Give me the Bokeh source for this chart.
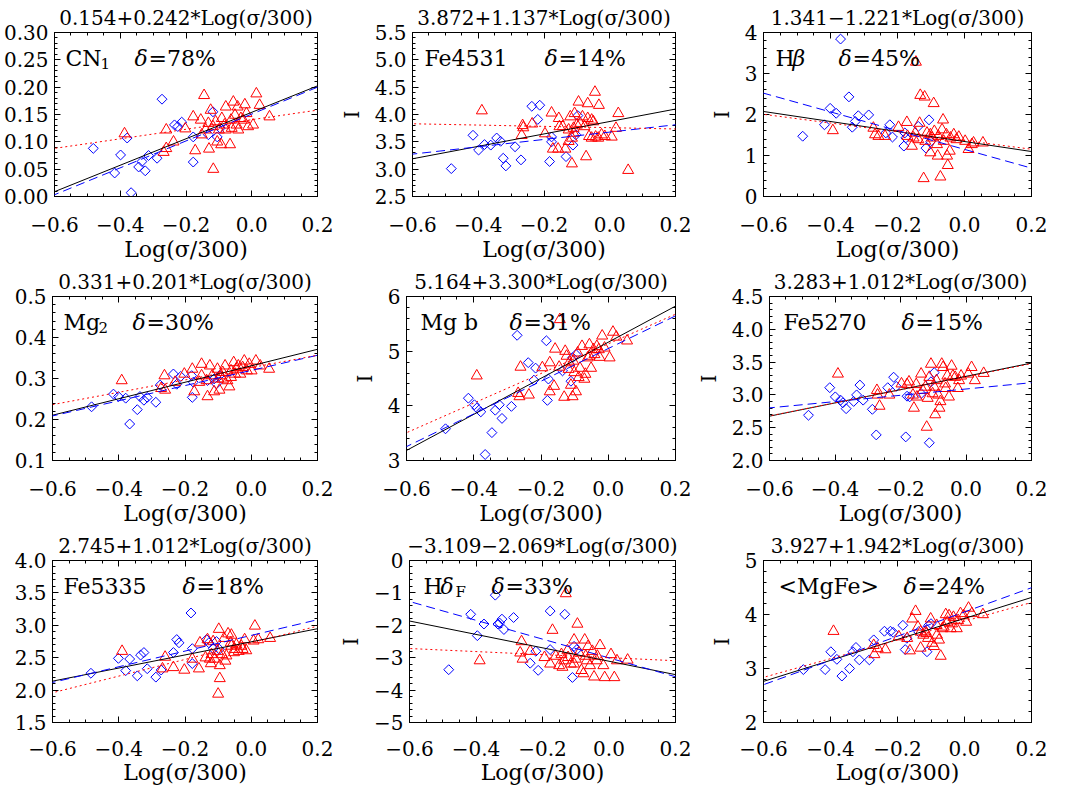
import math
from bokeh.plotting import figure
from bokeh.models import (Range1d, SingleIntervalTicker, LinearAxis, Slope, Label,
                          CustomJSTickFormatter)
from bokeh.layouts import column, row
from bokeh.embed import file_html
from bokeh.resources import INLINE

FONT = "DejaVu Serif"
BLUE = "#0000ff"
RED = "#ff0000"

# ------------------------------------------------------------------ data
x_axis_range = [-0.6, 0.2]
x_tick_step = 0.2
x_title = "Log(σ/300)"
y_title = "I"

# fit of all galaxies (from the panel titles): I = a + b*Log(sigma/300)
fit_all_a = [0.154, 3.872, 1.341, 0.331, 5.164, 3.283, 2.745, -3.109, 3.927]
fit_all_b = [0.242, 1.137, -1.221, 0.201, 3.300, 1.012, 1.012, -2.069, 1.942]
# fits of the blue (diamond) and red (triangle) subsamples
fit_blue_a = [0.1508, 3.678, 1.149, 0.3197, 5.048, 3.090, 2.844, -3.0065, 4.047]
fit_blue_b = [0.246, 0.671, -2.286, 0.185, 2.990, 0.480, 1.210, -2.9025, 2.245]
fit_red_a = [0.1405, 3.759, 1.366, 0.3266, 5.134, 3.277, 2.730, -2.999, 3.876]
fit_red_b = [0.0875, -0.119, -1.064, 0.1506, 2.710, 0.996, 1.285, -0.470, 1.734]
scatter_pct = [78, 14, 45, 30, 31, 15, 18, 33, 24]

y_lo = [0.0, 2.5, 0.0, 0.1, 3.0, 2.0, 1.5, -5.0, 2.0]
y_hi = [0.3, 5.5, 4.0, 0.5, 6.0, 4.5, 4.0, 0.0, 5.0]
y_step = [0.05, 0.5, 1, 0.1, 1, 0.5, 0.5, 1, 1]
y_dec = [2, 1, 0, 1, 0, 1, 1, 0, 0]

index_name_parts = [
    [("CN", "n"), ("1", "sub")],
    [("Fe4531", "n")],
    [("H", "n"), ("β", "i")],
    [("Mg", "n"), ("2", "sub")],
    [("Mg b", "n")],
    [("Fe5270", "n")],
    [("Fe5335", "n")],
    [("H", "n"), ("δ", "i"), ("F", "sub")],
    [("<MgFe>", "n")],
]

cn1_blue_x = [-0.482, -0.273, -0.399, -0.379, -0.417, -0.367, -0.344, -0.334, -0.324, -0.314,
              -0.288, -0.235, -0.225, -0.213, -0.178, -0.178, -0.132, -0.118, -0.105, -0.096]
cn1_blue_y = [0.088, 0.178, 0.076, 0.107, 0.043, 0.007, 0.054, 0.064, 0.047, 0.075,
              0.070, 0.131, 0.128, 0.136, 0.109, 0.063, 0.113, 0.155, 0.109, 0.125]
cn1_red_x = [-0.387, -0.145, -0.260, -0.238, -0.260, -0.268, -0.202, -0.178, -0.172, -0.155,
             -0.152, -0.130, -0.117, -0.125, -0.132, -0.118, -0.110, -0.105, -0.093, -0.079,
             -0.083, -0.079, -0.066, -0.056, -0.051, -0.046, -0.043, -0.033, -0.021, -0.016,
             -0.011, 0.004, 0.014, 0.024, 0.054, -0.063, -0.100, -0.091, -0.061, -0.041,
             -0.026, -0.140]
cn1_red_y = [0.115, 0.185, 0.122, 0.100, 0.088, 0.081, 0.124, 0.146, 0.084, 0.140,
             0.113, 0.087, 0.050, 0.158, 0.134, 0.128, 0.137, 0.100, 0.095, 0.164,
             0.131, 0.122, 0.095, 0.173, 0.149, 0.131, 0.164, 0.143, 0.168, 0.152,
             0.128, 0.131, 0.188, 0.167, 0.146, 0.140, 0.122, 0.143, 0.125, 0.122,
             0.140, 0.122]

fe4531_blue_x = [-0.482, -0.416, -0.399, -0.381, -0.362, -0.344, -0.332, -0.324, -0.316, -0.288,
                 -0.270, -0.237, -0.213, -0.219, -0.177, -0.177, -0.183, -0.133, -0.112, -0.103,
                 -0.097]
fe4531_blue_y = [3.01, 3.62, 3.35, 3.45, 3.44, 3.57, 3.51, 3.20, 3.06, 3.41,
                 3.17, 4.15, 4.17, 3.91, 3.59, 3.50, 3.14, 3.23, 3.44, 3.63,
                 3.98]
fe4531_red_x = [-0.389, -0.265, -0.263, -0.236, -0.268, -0.197, -0.177, -0.155, -0.173, -0.157,
                -0.143, -0.135, -0.125, -0.120, -0.115, -0.110, -0.107, -0.100, -0.095, -0.090,
                -0.083, -0.077, -0.072, -0.067, -0.063, -0.055, -0.050, -0.045, -0.043, -0.033,
                -0.025, -0.015, 0.006, 0.019, 0.026, 0.056, -0.125, -0.110, -0.067, -0.153,
                -0.115, -0.055, -0.035]
fe4531_red_y = [4.07, 3.80, 3.76, 3.83, 3.62, 3.65, 4.03, 3.93, 3.37, 3.37,
                3.78, 3.37, 3.51, 3.96, 3.10, 3.66, 4.02, 3.81, 4.23, 3.84,
                3.96, 3.78, 3.23, 4.20, 3.60, 3.90, 3.87, 4.41, 3.59, 4.17,
                3.63, 3.60, 3.59, 3.75, 4.02, 2.98, 3.72, 3.75, 3.93, 3.78,
                3.57, 3.57, 3.57]

hb_blue_x = [-0.483, -0.418, -0.401, -0.383, -0.370, -0.345, -0.335, -0.326, -0.317, -0.286,
             -0.223, -0.215, -0.235, -0.181, -0.178, -0.175, -0.138, -0.115, -0.106, -0.101]
hb_blue_y = [1.47, 1.75, 2.15, 2.03, 3.84, 2.43, 1.69, 1.83, 1.97, 1.99,
             1.75, 1.45, 1.55, 1.23, 1.55, 1.43, 1.71, 1.18, 1.87, 1.34]
hb_red_x = [-0.393, -0.145, -0.272, -0.267, -0.257, -0.237, -0.197, -0.172, -0.170, -0.157,
            -0.147, -0.134, -0.132, -0.122, -0.119, -0.117, -0.112, -0.102, -0.097, -0.092,
            -0.090, -0.082, -0.080, -0.072, -0.067, -0.064, -0.062, -0.054, -0.052, -0.050,
            -0.044, -0.042, -0.032, -0.024, -0.017, 0.002, 0.012, 0.022, 0.027, 0.055,
            -0.152, -0.138, -0.078, -0.102]
hb_red_y = [1.61, 3.28, 1.67, 1.51, 1.47, 1.47, 1.69, 1.81, 1.47, 1.23,
            1.55, 1.79, 2.47, 0.44, 2.43, 1.35, 1.55, 1.07, 1.43, 2.27,
            1.59, 1.27, 0.99, 0.48, 1.63, 1.87, 1.35, 1.51, 0.99, 0.76,
            1.11, 1.43, 1.51, 1.39, 1.45, 1.35, 1.15, 1.27, 1.31, 1.31,
            1.43, 1.39, 1.47, 1.51]

mg2_blue_x = [-0.482, -0.416, -0.401, -0.379, -0.367, -0.344, -0.336, -0.324, -0.314, -0.288,
              -0.275, -0.235, -0.225, -0.213, -0.180, -0.178, -0.175, -0.132, -0.112, -0.105,
              -0.096]
mg2_blue_y = [0.231, 0.262, 0.256, 0.252, 0.189, 0.224, 0.256, 0.247, 0.254, 0.242,
              0.284, 0.311, 0.286, 0.305, 0.307, 0.254, 0.291, 0.295, 0.299, 0.287,
              0.307]
mg2_red_x = [-0.391, -0.262, -0.272, -0.260, -0.230, -0.202, -0.172, -0.178, -0.157, -0.150,
             -0.132, -0.125, -0.118, -0.112, -0.102, -0.096, -0.093, -0.086, -0.079, -0.072,
             -0.066, -0.061, -0.053, -0.049, -0.039, -0.033, -0.021, -0.013, 0.001, 0.014,
             0.027, 0.054, -0.135, -0.100, -0.046, -0.026, -0.006, -0.150, -0.061, -0.086]
mg2_red_y = [0.295, 0.307, 0.276, 0.272, 0.291, 0.311, 0.268, 0.323, 0.291, 0.335,
             0.256, 0.331, 0.307, 0.268, 0.323, 0.272, 0.307, 0.315, 0.331, 0.295,
             0.280, 0.319, 0.339, 0.311, 0.331, 0.311, 0.343, 0.319, 0.319, 0.343,
             0.331, 0.323, 0.295, 0.299, 0.323, 0.327, 0.335, 0.307, 0.303, 0.299]

mgb_blue_x = [-0.484, -0.416, -0.398, -0.391, -0.379, -0.346, -0.336, -0.324, -0.316, -0.288,
              -0.366, -0.271, -0.238, -0.216, -0.221, -0.184, -0.178, -0.181, -0.136, -0.111,
              -0.106, -0.096]
mgb_blue_y = [3.58, 4.14, 4.02, 3.96, 3.89, 3.51, 3.92, 4.02, 3.77, 3.99,
              3.11, 5.29, 4.79, 4.69, 4.47, 5.19, 4.49, 4.10, 4.64, 4.45,
              4.88, 4.94]
mgb_red_x = [-0.391, -0.144, -0.261, -0.268, -0.264, -0.236, -0.196, -0.174, -0.158, -0.174,
             -0.161, -0.128, -0.124, -0.131, -0.118, -0.111, -0.104, -0.101, -0.096, -0.088,
             -0.084, -0.078, -0.071, -0.068, -0.061, -0.056, -0.051, -0.044, -0.034, -0.026,
             -0.018, -0.011, 0.004, 0.014, 0.024, 0.056, -0.146, -0.116, -0.091, -0.056,
             -0.041, -0.028, -0.106]
mgb_red_y = [4.55, 5.58, 4.71, 4.23, 4.17, 4.20, 4.70, 4.79, 5.04, 4.26,
             4.36, 5.00, 4.91, 4.16, 4.67, 4.38, 4.82, 4.61, 4.26, 4.52,
             4.69, 5.09, 4.49, 4.58, 4.88, 5.12, 4.69, 5.03, 5.09, 4.89,
             5.28, 5.06, 4.88, 5.35, 5.26, 5.19, 4.71, 4.79, 4.97, 4.91,
             4.94, 5.03, 4.17]

fe5270_blue_x = [-0.481, -0.416, -0.399, -0.383, -0.376, -0.366, -0.343, -0.334, -0.324, -0.314,
                 -0.286, -0.274, -0.239, -0.221, -0.213, -0.184, -0.180, -0.172, -0.137, -0.112,
                 -0.107, -0.097]
fe5270_blue_y = [2.69, 3.11, 2.97, 2.92, 2.88, 2.79, 2.90, 3.00, 3.15, 2.92,
                 2.78, 2.39, 3.11, 3.27, 3.13, 2.36, 2.98, 2.97, 3.02, 2.27,
                 3.20, 3.34]
fe5270_red_x = [-0.391, -0.272, -0.270, -0.264, -0.234, -0.197, -0.180, -0.174, -0.162, -0.159,
                -0.152, -0.137, -0.132, -0.124, -0.120, -0.117, -0.112, -0.107, -0.102, -0.094,
                -0.090, -0.085, -0.081, -0.074, -0.070, -0.064, -0.057, -0.052, -0.044, -0.040,
                -0.025, -0.021, -0.015, 0.007, 0.017, 0.027, 0.054, -0.150, -0.097, -0.062,
                -0.033, -0.078]
fe5270_red_y = [3.32, 3.07, 3.00, 2.83, 3.00, 3.17, 3.16, 3.20, 3.00, 2.80,
                3.16, 3.32, 3.07, 3.12, 2.51, 2.95, 3.27, 3.47, 3.02, 2.70,
                3.22, 3.00, 2.80, 3.47, 3.42, 3.17, 3.29, 2.97, 3.44, 3.29,
                3.10, 3.22, 3.29, 3.32, 3.42, 3.22, 3.33, 2.97, 3.12, 3.10,
                3.27, 2.90]

fe5335_blue_x = [-0.484, -0.401, -0.379, -0.367, -0.344, -0.334, -0.324, -0.314, -0.288, -0.272,
                 -0.235, -0.225, -0.218, -0.182, -0.178, -0.178, -0.135, -0.128, -0.115, -0.105,
                 -0.096]
fe5335_blue_y = [2.26, 2.49, 2.30, 2.48, 2.22, 2.54, 2.58, 2.33, 2.20, 2.31,
                 2.58, 2.78, 2.73, 3.19, 2.64, 2.41, 2.78, 2.73, 2.64, 2.75,
                 2.63]
fe5335_red_x = [-0.390, -0.260, -0.268, -0.235, -0.202, -0.178, -0.158, -0.155, -0.138, -0.132,
                -0.125, -0.122, -0.115, -0.110, -0.102, -0.098, -0.095, -0.095, -0.100, -0.088,
                -0.082, -0.078, -0.070, -0.062, -0.060, -0.052, -0.045, -0.038, -0.026, -0.020,
                -0.015, 0.011, 0.007, 0.021, 0.057, -0.060, -0.050, -0.120, -0.075, -0.030]
fe5335_red_y = [2.60, 2.51, 2.33, 2.35, 2.31, 2.48, 2.33, 2.73, 2.50, 2.78,
                2.48, 2.41, 2.75, 2.48, 2.60, 2.94, 2.38, 2.18, 1.94, 2.55,
                2.80, 2.45, 2.87, 2.73, 2.85, 2.58, 2.70, 2.60, 2.63, 2.78,
                2.61, 2.99, 2.76, 2.78, 2.80, 2.68, 2.63, 2.55, 2.53, 2.68]

hdf_blue_x = [-0.482, -0.416, -0.396, -0.376, -0.342, -0.334, -0.322, -0.316, -0.329, -0.287,
              -0.237, -0.220, -0.213, -0.177, -0.177, -0.133, -0.110, -0.105, -0.097]
hdf_blue_y = [-3.37, -1.66, -2.32, -1.96, -1.07, -1.96, -1.81, -2.13, -1.93, -1.76,
              -3.17, -2.80, -3.39, -1.56, -2.75, -1.66, -3.61, -2.65, -2.75]
hdf_red_x = [-0.389, -0.130, -0.263, -0.267, -0.260, -0.237, -0.194, -0.177, -0.170, -0.160,
             -0.150, -0.143, -0.135, -0.125, -0.123, -0.115, -0.105, -0.100, -0.095, -0.090,
             -0.083, -0.077, -0.073, -0.067, -0.063, -0.057, -0.050, -0.045, -0.037, -0.027,
             -0.017, -0.013, 0.006, 0.016, 0.024, 0.056, -0.105, -0.070, -0.035, -0.140]
hdf_red_y = [-3.09, -1.02, -2.50, -2.85, -3.04, -2.80, -2.99, -3.19, -2.15, -2.95,
             -3.24, -2.90, -3.09, -2.78, -2.99, -3.19, -2.45, -3.04, -1.96, -2.85,
             -3.39, -3.49, -2.45, -3.09, -2.65, -3.24, -2.80, -3.59, -3.09, -2.62,
             -3.24, -3.61, -2.90, -3.61, -3.09, -3.07, -3.19, -2.95, -2.95, -3.29]

mgfe_blue_x = [-0.481, -0.416, -0.399, -0.381, -0.366, -0.343, -0.333, -0.324, -0.314, -0.284,
               -0.271, -0.239, -0.221, -0.213, -0.184, -0.177, -0.172, -0.137, -0.112, -0.107,
               -0.100]
mgfe_blue_y = [2.98, 2.98, 3.31, 3.17, 2.86, 3.00, 3.31, 3.39, 3.16, 3.16,
               3.53, 3.69, 3.69, 3.67, 3.80, 3.35, 3.56, 3.68, 3.31, 3.80,
               3.83]
mgfe_red_x = [-0.391, -0.271, -0.269, -0.259, -0.236, -0.196, -0.171, -0.163, -0.156, -0.146,
              -0.139, -0.131, -0.123, -0.116, -0.109, -0.101, -0.096, -0.091, -0.083, -0.076,
              -0.071, -0.066, -0.056, -0.051, -0.046, -0.041, -0.033, -0.023, -0.019, -0.012,
              0.005, 0.012, 0.022, 0.055, -0.131, -0.114, -0.062, -0.037, -0.003, -0.082]
mgfe_red_y = [3.69, 3.43, 3.26, 3.37, 3.35, 3.59, 3.56, 3.33, 3.92, 4.06,
              3.77, 3.38, 3.62, 3.68, 3.56, 3.92, 3.47, 3.41, 3.80, 3.53,
              3.23, 3.74, 4.00, 3.86, 3.98, 3.74, 3.95, 3.74, 3.89, 4.02,
              3.86, 4.12, 4.02, 4.00, 3.68, 3.65, 3.77, 3.83, 3.98, 3.62]

blue_sets = [(cn1_blue_x, cn1_blue_y), (fe4531_blue_x, fe4531_blue_y), (hb_blue_x, hb_blue_y),
             (mg2_blue_x, mg2_blue_y), (mgb_blue_x, mgb_blue_y), (fe5270_blue_x, fe5270_blue_y),
             (fe5335_blue_x, fe5335_blue_y), (hdf_blue_x, hdf_blue_y), (mgfe_blue_x, mgfe_blue_y)]
red_sets = [(cn1_red_x, cn1_red_y), (fe4531_red_x, fe4531_red_y), (hb_red_x, hb_red_y),
            (mg2_red_x, mg2_red_y), (mgb_red_x, mgb_red_y), (fe5270_red_x, fe5270_red_y),
            (fe5335_red_x, fe5335_red_y), (hdf_red_x, hdf_red_y), (mgfe_red_x, mgfe_red_y)]

# ------------------------------------------------------------------ layout / style
COL_LEFT = [52, 70, 70]
COL_FRAME = [265, 269, 268]
COL_RIGHT = [19, 18, 32]
ROW_TOP = [32, 29, 29]
ROW_FRAME = [168, 170, 169]
ROW_BOTTOM = [64, 65, 61]
X_LABEL_STANDOFF = [20, 20, 18]
X_AXLABEL_STANDOFF = [2, 2, 1]

NAME_DX = [[11, 46], [12], [12, 29], [11, 46], [14], [14], [11], [14, 31, 46], [15]]
DELTA_DX = [80, 132, 75, 80, 103, 132, 130, 82, 140]
EPS = 1e-9


def num(v, dec):
    if abs(v) < 1e-12:
        v = 0.0
    s = f"{abs(v):.{dec}f}"
    return ("\u2212" + s) if v < 0 else s


def fit_title(a, b):
    sign = "+" if b >= 0 else "\u2212"
    return f"{num(a, 3)}{sign}{abs(b):.3f}*Log(σ/300)"


def tick_fmt(dec):
    return CustomJSTickFormatter(args=dict(d=dec), code="""
        const v = Math.abs(tick) < 1e-9 ? 0 : tick;
        const s = Math.abs(v).toFixed(d);
        return (v < 0 ? "\u2212" : "") + s;
    """)


def blank_fmt():
    return CustomJSTickFormatter(code="return '';")


def style_axis(ax, show_labels, standoff=6):
    ax.axis_line_color = "black"
    ax.axis_line_width = 1
    ax.major_tick_in = 6
    ax.major_tick_out = 0
    ax.minor_tick_in = 3
    ax.minor_tick_out = 0
    ax.major_tick_line_color = "black"
    ax.minor_tick_line_color = "black"
    ax.major_label_text_font = FONT
    ax.major_label_text_color = "black"
    ax.major_label_text_font_size = "20px" if show_labels else "1px"
    ax.major_label_standoff = standoff if show_labels else 0
    ax.axis_label_text_font = FONT
    ax.axis_label_text_font_style = "normal"
    ax.axis_label_text_color = "black"


def make_panel(i):
    r, c = divmod(i, 3)
    lo, hi = y_lo[i], y_hi[i]
    x0, x1 = x_axis_range
    W = COL_LEFT[c] + COL_FRAME[c] + COL_RIGHT[c]
    H = ROW_TOP[r] + ROW_FRAME[r] + ROW_BOTTOM[r]
    p = figure(width=W, height=H,
               x_range=Range1d(x0 - EPS, x1 + EPS),
               y_range=Range1d(lo - EPS, hi + EPS),
               x_axis_type=None, y_axis_type=None,
               output_backend="svg", toolbar_location=None, tools="",
               min_border_left=COL_LEFT[c], min_border_right=COL_RIGHT[c],
               min_border_top=ROW_TOP[r], min_border_bottom=ROW_BOTTOM[r])
    p.outline_line_color = "black"
    p.outline_line_width = 1
    p.background_fill_color = "white"
    p.border_fill_color = "white"

    p.title.text = fit_title(fit_all_a[i], fit_all_b[i])
    p.title.align = "center"
    p.title.text_font = FONT
    p.title.text_font_size = "20px"
    p.title.text_font_style = "normal"
    p.title.text_color = "black"
    p.title.standoff = 6

    xb = LinearAxis(ticker=SingleIntervalTicker(interval=x_tick_step, num_minor_ticks=4),
                    formatter=tick_fmt(1), axis_label=x_title)
    style_axis(xb, True, X_LABEL_STANDOFF[r])
    xb.axis_label_text_font_size = "22px"
    xb.axis_label_standoff = X_AXLABEL_STANDOFF[r]
    p.add_layout(xb, "below")

    xt = LinearAxis(ticker=SingleIntervalTicker(interval=x_tick_step, num_minor_ticks=4),
                    formatter=blank_fmt())
    style_axis(xt, False)
    p.add_layout(xt, "above")

    yl = LinearAxis(ticker=SingleIntervalTicker(interval=y_step[i], num_minor_ticks=5),
                    formatter=tick_fmt(y_dec[i]),
                    axis_label=(y_title if c > 0 else None))
    style_axis(yl, True, 6)
    yl.axis_label_text_font_size = "20px"
    yl.axis_label_standoff = 8
    p.add_layout(yl, "left")

    yr = LinearAxis(ticker=SingleIntervalTicker(interval=y_step[i], num_minor_ticks=5),
                    formatter=blank_fmt())
    style_axis(yr, False)
    p.add_layout(yr, "right")

    bx, by = blue_sets[i]
    rx, ry = red_sets[i]
    p.scatter(x=bx, y=by, marker="square", angle=math.pi / 4, size=7,
              fill_color=None, line_color=BLUE, line_width=1)
    p.scatter(x=rx, y=ry, marker="triangle", size=11,
              fill_color=None, line_color=RED, line_width=1)

    p.add_layout(Slope(gradient=fit_all_b[i], y_intercept=fit_all_a[i],
                       line_color="black", line_width=1))
    p.add_layout(Slope(gradient=fit_blue_b[i], y_intercept=fit_blue_a[i],
                       line_color=BLUE, line_width=1, line_dash="9 5"))
    p.add_layout(Slope(gradient=fit_red_b[i], y_intercept=fit_red_a[i],
                       line_color=RED, line_width=1, line_dash="2 3"))

    for (txt, kind), dx in zip(index_name_parts[i], NAME_DX[i]):
        p.add_layout(Label(x=x0, y=hi, x_offset=dx,
                           y_offset=-(31 if kind == "sub" else 26),
                           text=txt, text_font=FONT,
                           text_font_size=("15px" if kind == "sub" else "22px"),
                           text_font_style=("italic" if kind == "i" else "normal"),
                           text_color="black", text_baseline="alphabetic",
                           text_align="left"))
    p.add_layout(Label(x=x0, y=hi, x_offset=DELTA_DX[i], y_offset=-26,
                       text="δ", text_font=FONT, text_font_size="22px",
                       text_font_style="italic", text_color="black",
                       text_baseline="alphabetic", text_align="left"))
    p.add_layout(Label(x=x0, y=hi, x_offset=DELTA_DX[i] + 14, y_offset=-26,
                       text=f"={scatter_pct[i]}%", text_font=FONT, text_font_size="22px",
                       text_font_style="normal", text_color="black",
                       text_baseline="alphabetic", text_align="left"))
    return p


figs = [make_panel(i) for i in range(9)]
layout = column(row(*figs[0:3]), row(*figs[3:6]), row(*figs[6:9]))
open("out.html", "w").write(file_html(layout, INLINE, title="Line-strength indices vs velocity dispersion"))
